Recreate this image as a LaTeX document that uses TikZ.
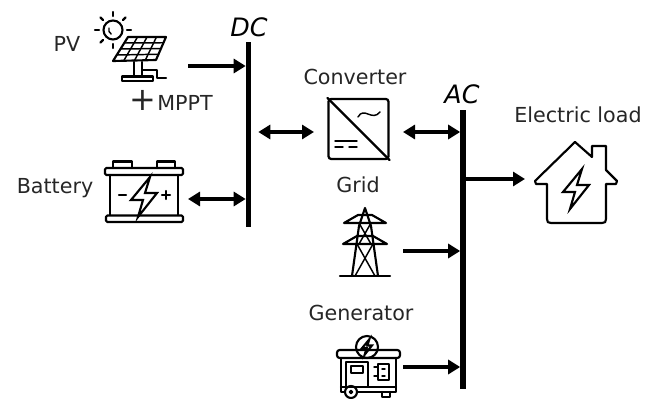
\documentclass[tikz,border=0pt]{standalone}
\usepackage{fontspec}
\setmainfont{DejaVu Sans}
\usetikzlibrary{calc,arrows.meta,positioning}
\tikzset{
  lbl/.style={font=\fontsize{15.5}{18}\selectfont, text=black!85, inner sep=0pt},
  buslbl/.style={font=\fontsize{19}{22}\selectfont\itshape, inner sep=0pt},
  busbar/.style={fill=black, inner sep=0pt, minimum width=3.8pt},
  flow/.style={line width=3pt, -{Triangle[length=9pt,width=10.5pt]}},
  flowboth/.style={line width=2.4pt, {Triangle[length=9pt,width=10.5pt]}-{Triangle[length=9pt,width=10.5pt]}},
  icon/.style={line width=1.6pt, line join=round, line cap=round},
  thinicon/.style={line width=1.1pt, line join=round, line cap=round},
  bolt/.pic={\draw[icon, line join=miter] (6,-20) -- (-13,3) -- (-1,3) -- (-6,20) -- (13,-4) -- (1,-4) -- cycle;}
}
\begin{document}
\begin{tikzpicture}[x=0.75pt,y=-0.75pt]
\useasboundingbox (0,0) rectangle (651,399);
% buses
\node[busbar, minimum height=138.75pt] (dc) at (248.5,134.5) {};
\node[busbar, minimum height=209.25pt] (ac) at (463,249.5) {};
\node[buslbl] (dclbl) at (249,27) {DC};
\node[buslbl] (aclbl) at (462,94) {AC};
% labels
\node[lbl] (pvlbl) at (67,44) {PV};
\node[lbl] (mppt) at (171,100) {{\fontsize{24}{24}\selectfont\addfontfeature{}+}\kern1pt MPPT};
\node[lbl] (batlbl) at (55,188) {Battery};
\node[lbl] (convlbl) at (355,77) {Converter};
\node[lbl] (gridlbl) at (358,185) {Grid};
\node[lbl] (genlbl) at (361,313) {Generator};
\node[lbl] (loadlbl) at (578,115) {Electric load};
% pv panel
\draw[icon] (113,30) circle (9.5);
\draw[thinicon] (109,28) arc (200:120:5);
\foreach \an in {0,45,...,315} {
  \ifnum\an=45 \else
  \draw[icon] ($(113,30)+(\an:14)$) -- ($(113,30)+(\an:18)$);
  \fi
}
\draw[icon] (128,37) -- (166,37) -- (156,60) -- (113,61) -- cycle;
\foreach \t in {0.25,0.5,0.75} {
  \draw[thinicon] ($(128,37)!\t!(166,37)$) -- ($(113,61)!\t!(156,60)$);
  \draw[thinicon] ($(128,37)!\t!(113,61)$) -- ($(166,37)!\t!(156,60)$);
}
\draw[icon] (134,62) -- (134,76) (142,62) -- (142,76);
\draw[icon] (122,76.5) rectangle (153,81);
\draw[icon] (143,70) -- (157,70) -- (157,78) -- (166,78);
% battery
\draw[icon] (113,168) -- (113,161.5) -- (132,161.5) -- (132,168);
\draw[icon] (157,168) -- (157,161.5) -- (175,161.5) -- (175,168);
\draw[icon, rounded corners=1pt] (105,168) rectangle (183,175);
\draw[icon] (110,175) -- (110,215) (178,175) -- (178,215);
\draw[icon, rounded corners=1pt] (106,215.5) rectangle (183,222);
\draw[thinicon] (135,168) -- (136,168) (143,168) -- (152,168);
\draw[icon] (119,195) -- (126,195) (162,195) -- (170,195) (166,191) -- (166,199);
\pic at (144,197) {bolt};
% converter
\node[draw, line width=1.7pt, rounded corners=2pt, minimum size=45pt, inner sep=0pt] (conv) at (358.5,129) {};
\draw[icon] (conv.north west) -- (conv.south east);
\draw[thinicon] (358,117) .. controls (364,106) and (372,122) .. (380,112);
\draw[thinicon] (335,141) -- (357,141) (335,147) -- (343,147) (349,147) -- (357,147);
% grid tower
\draw[icon] (340,276) -- (390,276);
\draw[icon] (352,276) -- (359,226) -- (365,208) -- (371,226) -- (378,276);
\draw[icon] (344,223) -- (358,215) -- (372,215) -- (386,223) -- cycle;
\draw[icon] (343,244) -- (357,236) -- (373,236) -- (387,244) -- cycle;
\draw[thinicon] (359,223) -- (371,244) (371,223) -- (359,244) (357,244) -- (375,276) (373,244) -- (355,276);
% generator
\draw[icon] (367,347) circle (11);
\pic[scale=0.38] at (367,347) {bolt};
\draw[icon, rounded corners=2pt] (337,350) rectangle (400,358);
\draw[icon] (341,358) -- (341,392) -- (344,392) (396,358) -- (396,392) -- (358,392);
\draw[icon] (341,387) -- (396,387);
\draw[icon] (346,362) rectangle (368,387);
\draw[thinicon] (351,366) rectangle (363,373);
\draw[icon] (378,364) rectangle (389,380);
\draw[thinicon] (374,367) -- (378,367) (374,376) -- (378,376) (382,369) -- (385,369) (382,376) -- (385,376);
\draw[icon] (351,392) circle (6);
\draw[thinicon] (351,392) circle (1.5);
\draw[icon] (382,392) -- (382,397) -- (390,397) -- (390,392);
% electric load
\draw[icon] (592,157) -- (575,142) -- (535,181) -- (536,184) -- (547,184) -- (547,219)
  .. controls (547,222) and (548,223) .. (551,223) -- (602,223)
  .. controls (605,223) and (606,222) .. (606,219) -- (606,184) -- (616,184) -- (617,181) -- (606,170) -- (606,146) -- (592,146) -- cycle;
\pic at (576,189) {bolt};
% connectors
\coordinate (pvout) at (188,66);
\coordinate (batout) at (188,199);
\coordinate (convl) at (314,132);
\coordinate (convr) at (403,132);
\coordinate (gridout) at (403,251);
\coordinate (genout) at (403,367);
\coordinate (loadin) at (525,179);
\draw[flow] (pvout) -- (pvout -| dc.west);
\draw[flowboth] (batout) -- (batout -| dc.west);
\draw[flowboth] (convl -| dc.east) ++(7,0) -- (convl);
\draw[flowboth] (convr) -- (convr -| ac.west);
\draw[flow] (gridout) -- (gridout -| ac.west);
\draw[flow] (genout) -- (genout -| ac.west);
\draw[flow] (loadin -| ac.east) -- (loadin);
\end{tikzpicture}
\end{document}
